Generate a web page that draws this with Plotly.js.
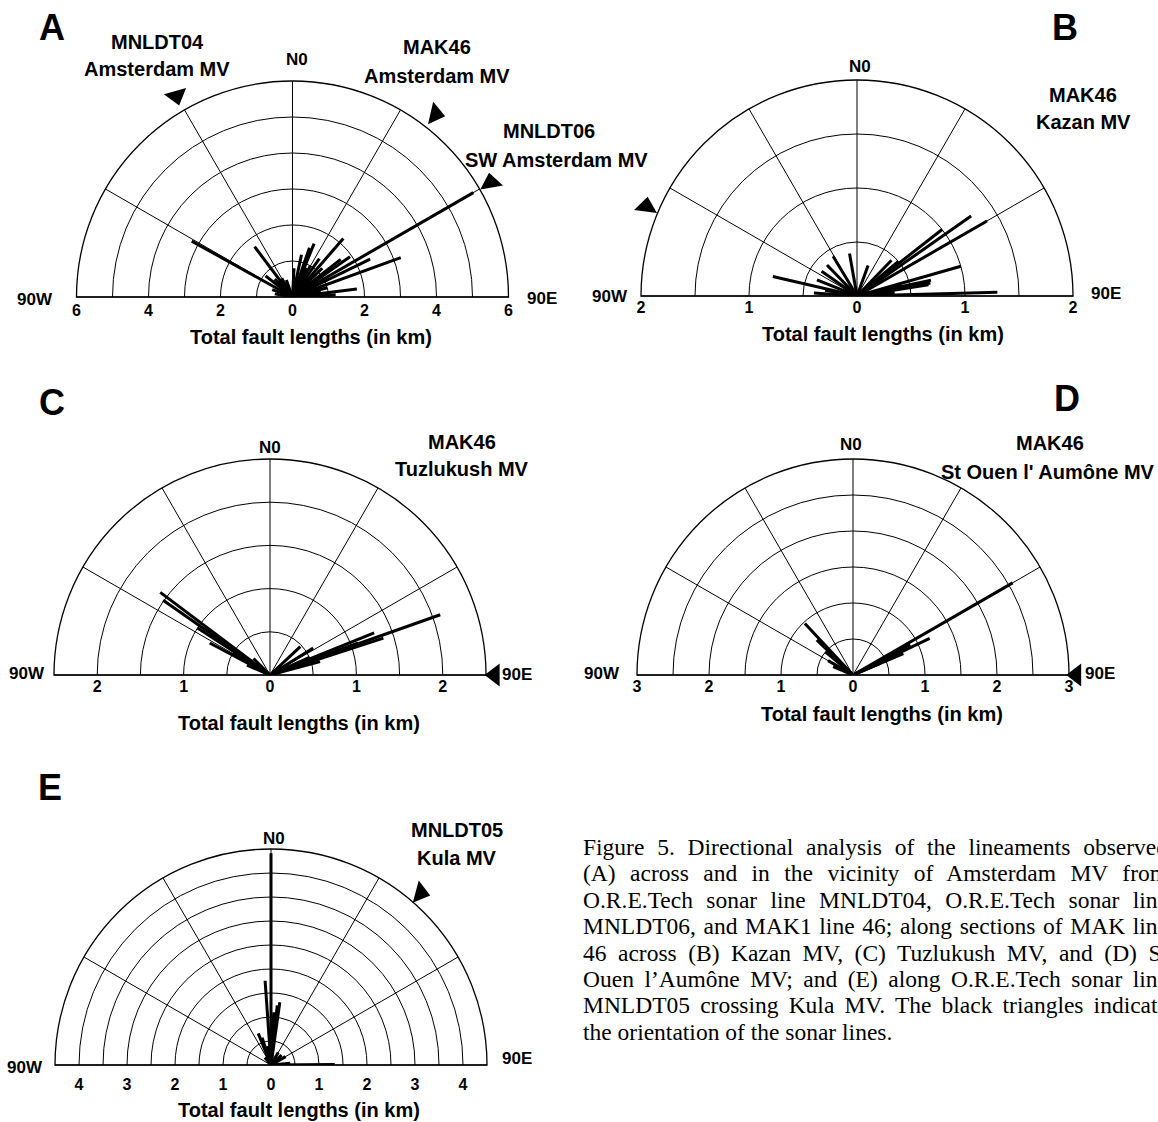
<!DOCTYPE html>
<html>
<head>
<meta charset="utf-8">
<script src="https://cdn.plot.ly/plotly-3.0.1.min.js"></script>
<style>
  html, body { margin: 0; padding: 0; width: 1158px; height: 1122px; overflow: hidden; background: #fff; }
  #chart { position: absolute; left: 0; top: 0; width: 1158px; height: 1122px; }
  #caption { position: absolute; left: 583px; top: 834px; width: 585px; font-family: "Liberation Serif", "Times New Roman", serif; font-size: 23.5px; line-height: 26.4px; color: #000; }
  #caption div { text-align: justify; text-align-last: justify; white-space: nowrap; }
  #caption div.last { text-align-last: left; }
</style>
</head>
<body>
<div id="chart"></div>
<div id="caption"></div>
<script>
// ---------------- DATA ----------------
// Panel A: fault azimuths (deg, negative = west of N) and total lengths (km)
const A_theta = [60, 70, 64, 55, 41, 22, 19, 83, 87, 46, 52, 12, 3, 30, 75, 35, 26, 80, -61, -37, -52, -45, -30, -70, -80, -20];
const A_len   = [5.8, 3.2, 2.4, 1.95, 2.15, 1.6, 1.45, 1.8, 1.2, 1.15, 1.7, 1.2, 0.8, 1.0, 1.0, 1.3, 0.9, 0.8, 3.2, 1.75, 0.95, 0.7, 0.6, 0.6, 0.5, 0.5];
// Panel B
const B_theta = [-77, -86, -68, -55, -44, -31, -10, -80, 55, 52, 60, 74, 78, 80, 81, 88.5, 77, 44, 50, 85, 20];
const B_len   = [0.8, 0.4, 0.4, 0.4, 0.4, 0.43, 0.4, 0.3, 1.29, 1.0, 1.39, 1.0, 0.7, 0.69, 0.67, 1.3, 0.42, 0.46, 0.5, 0.35, 0.3];
// Panel C
const C_theta = [-53, -55, -62, -60, -45, -67, -57, 70.5, 72, 70, 58, 47, 66, 75, 68];
const C_len   = [1.59, 1.51, 0.79, 0.5, 0.27, 0.29, 1.0, 2.09, 1.38, 1.09, 0.59, 0.48, 0.5, 0.6, 1.3];
// Panel D
const D_theta = [-43, -46, -60, -67, -50, 60, 64.5, 67, 66.6, 62];
const D_len   = [0.98, 0.7, 0.4, 0.3, 0.5, 2.56, 1.18, 0.76, 0.41, 0.9];
// Panel E
const E_theta = [0, -4, 8, 6, -22, -18, 89.5, 85, 47, 3, -10, 30, -40, 60];
const E_len   = [4.41, 1.76, 1.32, 1.25, 0.71, 0.6, 1.33, 0.4, 0.3, 1.1, 0.4, 0.3, 0.2, 0.35];

// Outer radius (km) and circle spacing of each rose
const rangeMax = {A: 6, B: 2, C: 2.5, D: 3, E: 4.5};
const ringStep = {A: 1, B: 0.5, C: 0.5, D: 0.5, E: 0.5};
// Scale tick labels
const A_ticks = [-6, -4, -2, 0, 2, 4, 6];
const B_ticks = [-2, -1, 0, 1, 2];
const C_ticks = [-2, -1, 0, 1, 2];
const D_ticks = [-3, -2, -1, 0, 1, 2, 3];
const E_ticks = [-4, -3, -2, -1, 0, 1, 2, 3, 4];

// Sonar-line orientation triangles: azimuth, radius (km), symbol, rotation
const A_tri_theta = [-30, 38, 60];
const A_tri_r = [6.45, 6.45, 6.36];
const A_tri_sym = ["triangle-down", "triangle-right", "triangle-up"];
const A_tri_ang = [-16, 13, -10];
const B_tri_theta = [-67], B_tri_r = [2.12], B_tri_sym = ["triangle-up"], B_tri_ang = [8];
const C_tri_theta = [90], C_tri_r = [2.6], C_tri_sym = ["triangle-left"], C_tri_ang = [0];
const D_tri_theta = [90], D_tri_r = [3.1], D_tri_sym = ["triangle-left"], D_tri_ang = [0];
const E_tri_theta = [41], E_tri_r = [4.75], E_tri_sym = ["triangle-right"], E_tri_ang = [15];

const titles = {
  A1: ["MNLDT04", "Amsterdam MV"],
  A2: ["MAK46", "Amsterdam MV"],
  A3: ["MNLDT06", "SW Amsterdam MV"],
  B: ["MAK46", "Kazan MV"],
  C: ["MAK46", "Tuzlukush MV"],
  D: ["MAK46", "St Ouen l' Aumône MV"],
  E: ["MNLDT05", "Kula MV"]
};
const axisTitle = "Total fault lengths (in km)";
const captionLines = [
  "Figure 5. Directional analysis of the lineaments observed",
  "(A) across and in the vicinity of Amsterdam MV from",
  "O.R.E.Tech sonar line MNLDT04, O.R.E.Tech sonar line",
  "MNLDT06, and MAK1 line 46; along sections of MAK line",
  "46 across (B) Kazan MV, (C) Tuzlukush MV, and (D) St",
  "Ouen l\u2019Aumône MV; and (E) along O.R.E.Tech sonar line",
  "MNLDT05 crossing Kula MV. The black triangles indicate",
  "the orientation of the sonar lines."
];

// ---------------- LAYOUT ----------------
const W = 1158, H = 1122, R = 216, R2 = 270;
const px = x => x / W;
const py = y => 1 - y / H;
const FONT = "Liberation Sans, Arial, sans-serif";

const panels = [
  {id: "A", cx: 292.5, cy: 297, th: A_theta, len: A_len, ticks: A_ticks, tt: A_tri_theta, tr: A_tri_r, ts: A_tri_sym, ta: A_tri_ang, tickDrop: 0},
  {id: "B", cx: 857, cy: 296, th: B_theta, len: B_len, ticks: B_ticks, tt: B_tri_theta, tr: B_tri_r, ts: B_tri_sym, ta: B_tri_ang, tickDrop: -2},
  {id: "C", cx: 270, cy: 675, th: C_theta, len: C_len, ticks: C_ticks, tt: C_tri_theta, tr: C_tri_r, ts: C_tri_sym, ta: C_tri_ang, tickDrop: -2},
  {id: "D", cx: 853, cy: 675, th: D_theta, len: D_len, ticks: D_ticks, tt: D_tri_theta, tr: D_tri_r, ts: D_tri_sym, ta: D_tri_ang, tickDrop: -2},
  {id: "E", cx: 271, cy: 1065, th: E_theta, len: E_len, ticks: E_ticks, tt: E_tri_theta, tr: E_tri_r, ts: E_tri_sym, ta: E_tri_ang, tickDrop: 6}
];

const data = [];
const layout = {
  width: W, height: H, autosize: false,
  margin: {l: 0, r: 0, t: 0, b: 0},
  paper_bgcolor: "#fff", plot_bgcolor: "rgba(0,0,0,0)",
  showlegend: false,
  font: {family: FONT, color: "#000"},
  annotations: []
};

panels.forEach((p, i) => {
  const n = i + 1;
  const pk = n === 1 ? "polar" : "polar" + n;
  const tk = "polar" + (n + 5);          // overlay for the triangles (same centre & scale, larger extent)
  const xk = n === 1 ? "xaxis" : "xaxis" + n;
  const yk = n === 1 ? "yaxis" : "yaxis" + n;
  const xr = n === 1 ? "x" : "x" + n;
  const yr = n === 1 ? "y" : "y" + n;
  const rmax = rangeMax[p.id];

  layout[pk] = {
    domain: {x: [px(p.cx - R), px(p.cx + R)], y: [py(p.cy), py(p.cy - R)]},
    sector: [0, 180],
    bgcolor: "rgba(0,0,0,0)",
    angularaxis: {
      rotation: 90, direction: "clockwise", dtick: 30,
      showticklabels: false, ticks: "",
      showgrid: true, gridcolor: "#000", gridwidth: 1,
      showline: true, linecolor: "#000", linewidth: 1.3
    },
    radialaxis: {
      range: [0, rmax], dtick: ringStep[p.id], angle: 0,
      showticklabels: false, ticks: "", showline: false,
      showgrid: true, gridcolor: "#000", gridwidth: 1
    }
  };
  layout[tk] = {
    domain: {x: [px(p.cx - R2), px(p.cx + R2)], y: [py(p.cy), py(p.cy - R2)]},
    sector: [0, 180],
    bgcolor: "rgba(0,0,0,0)",
    angularaxis: {rotation: 90, direction: "clockwise", visible: false},
    radialaxis: {range: [0, rmax * R2 / R], visible: false}
  };

  // rose bars: one segment from the centre per azimuth
  const r = [], t = [];
  p.th.forEach((a, k) => { r.push(0, p.len[k], null); t.push(a, a, null); });
  data.push({
    type: "scatterpolar", subplot: pk, mode: "lines",
    r: r, theta: t, connectgaps: false,
    line: {color: "#000", width: 3}, hoverinfo: "skip"
  });
  // orientation triangles
  data.push({
    type: "scatterpolar", subplot: tk, mode: "markers", cliponaxis: false,
    r: p.tr, theta: p.tt,
    marker: {symbol: p.ts, angle: p.ta, size: 20, color: "#000", line: {width: 0}},
    hoverinfo: "skip"
  });

  // bottom scale: a linear axis spanning the rose diameter
  const base = p.cy + p.tickDrop;
  layout[xk] = {
    domain: [px(p.cx - R), px(p.cx + R)], anchor: yr,
    range: [-rmax, rmax], tickvals: p.ticks,
    ticktext: p.ticks.map(v => String(Math.abs(v))),
    showgrid: false, zeroline: false, showline: false, ticks: "",
    tickfont: {family: FONT, size: 16, color: "#000", weight: "bold"},
    fixedrange: true
  };
  layout[yk] = {
    domain: [py(base + 2), py(base)], anchor: xr, range: [0, 1],
    visible: false, fixedrange: true
  };
  data.push({
    type: "scatter", xaxis: xr, yaxis: yr, mode: "markers",
    x: p.ticks, y: p.ticks.map(() => 0.5),
    marker: {opacity: 0}, hoverinfo: "skip"
  });
});

// ---------------- TEXT ----------------
function ann(text, x, y, size, xanchor) {
  layout.annotations.push({
    text: text, x: px(x), y: py(y), xref: "paper", yref: "paper",
    xanchor: xanchor || "center", yanchor: "middle", showarrow: false,
    font: {family: FONT, size: size, color: "#000", weight: "bold"}
  });
}
// panel letters
ann("A", 52, 28, 36); ann("B", 1065, 28, 36); ann("C", 52, 402, 36); ann("D", 1067, 398, 36); ann("E", 50, 787, 36);
// compass labels
const compass = [
  ["N0", 297, 59], ["90W", 35, 299], ["90E", 542, 298],
  ["N0", 860, 67], ["90W", 610, 297], ["90E", 1106, 294],
  ["N0", 270, 447], ["90W", 27, 673], ["90E", 517, 674],
  ["N0", 851, 444], ["90W", 602, 673], ["90E", 1100, 673],
  ["N0", 274, 838], ["90W", 25, 1067], ["90E", 517, 1058]
];
compass.forEach(c => ann(c[0], c[1], c[2], 17));
// axis titles
[[311, 337], [883, 334], [299, 723], [882, 714], [299, 1110]].forEach(c => ann(axisTitle, c[0], c[1], 20));
// line / site titles
const tpos = [["A1", 157, 42, 69], ["A2", 437, 47, 76], ["A3", 549, 131, 160], ["B", 1083, 95, 122], ["C", 462, 442, 469], ["D", 1050, 443, 472], ["E", 457, 830, 858]];
tpos.forEach(t => {
  ann(titles[t[0]][0], t[1], t[2], 20);
  ann(titles[t[0]][1], t[0] === "A3" ? 556 : (t[0] === "D" ? 1048 : t[1]), t[3], 20);
});

Plotly.newPlot("chart", data, layout, {staticPlot: true, displayModeBar: false});

// caption
const cap = document.getElementById("caption");
captionLines.forEach((l, i) => {
  const d = document.createElement("div");
  d.textContent = l;
  if (i === captionLines.length - 1) d.className = "last";
  cap.appendChild(d);
});
</script>
</body>
</html>
